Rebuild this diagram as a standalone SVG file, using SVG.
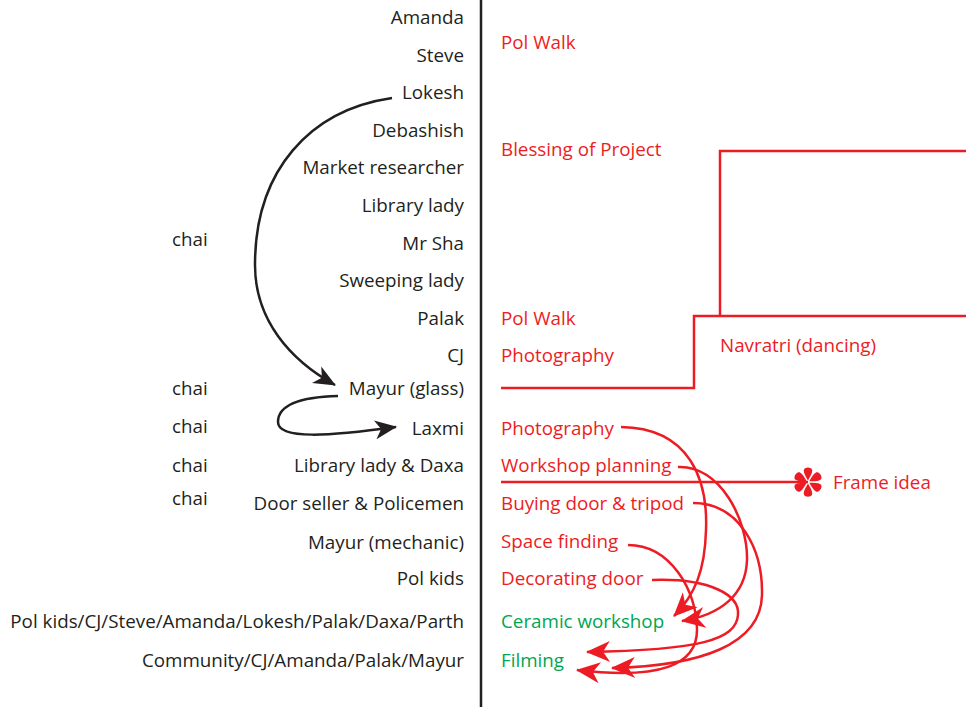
<svg xmlns="http://www.w3.org/2000/svg" width="966" height="707" viewBox="0 0 966 707">
<style>
text{font-family:"Open Sans","Noto Sans","Liberation Sans",sans-serif;font-size:18.8px}
.k{fill:#231f20;text-anchor:end}
.c{fill:#231f20}
.r{fill:#ed1c24}
.g{fill:#00a651}
.lr{fill:none;stroke:#ed1c24;stroke-width:2.5}
.lk{fill:none;stroke:#231f20;stroke-width:2.5}
</style>
<defs>
<marker id="ar" viewBox="-26 -12 28 24" refX="0" refY="0" markerWidth="28" markerHeight="24" markerUnits="userSpaceOnUse" orient="auto">
<path d="M1,0 L-23,-10.5 L-16,0 L-23,10.5 Z" fill="#ed1c24"/>
</marker>
<marker id="ak" viewBox="-26 -12 28 24" refX="0" refY="0" markerWidth="28" markerHeight="24" markerUnits="userSpaceOnUse" orient="auto">
<path d="M1,0 L-21,-9.5 L-15,0 L-21,9.5 Z" fill="#231f20"/>
</marker>
</defs>
<line x1="481" y1="0" x2="481" y2="707" stroke="#231f20" stroke-width="2.5"/>
<g id="people">
<text class="k" x="464" y="24">Amanda</text>
<text class="k" x="464" y="62">Steve</text>
<text class="k" x="464" y="99">Lokesh</text>
<text class="k" x="464" y="137">Debashish</text>
<text class="k" x="464" y="174">Market researcher</text>
<text class="k" x="464" y="212">Library lady</text>
<text class="k" x="464" y="250">Mr Sha</text>
<text class="k" x="464" y="287">Sweeping lady</text>
<text class="k" x="464" y="325">Palak</text>
<text class="k" x="464" y="362">CJ</text>
<text class="k" x="464" y="395">Mayur (glass)</text>
<text class="k" x="464" y="435">Laxmi</text>
<text class="k" x="464" y="472">Library lady &amp; Daxa</text>
<text class="k" x="464" y="510">Door seller &amp; Policemen</text>
<text class="k" x="464" y="549">Mayur (mechanic)</text>
<text class="k" x="464" y="585">Pol kids</text>
<text class="k" x="464" y="628">Pol kids/CJ/Steve/Amanda/Lokesh/Palak/Daxa/Parth</text>
<text class="k" x="464" y="667">Community/CJ/Amanda/Palak/Mayur</text>
</g>
<g id="chai">
<text class="c" x="172" y="246">chai</text>
<text class="c" x="172" y="395">chai</text>
<text class="c" x="172" y="433">chai</text>
<text class="c" x="172" y="472">chai</text>
<text class="c" x="172" y="505">chai</text>
</g>
<g id="activities">
<text class="r" x="501" y="49">Pol Walk</text>
<text class="r" x="501" y="156">Blessing of Project</text>
<text class="r" x="501" y="325">Pol Walk</text>
<text class="r" x="501" y="362">Photography</text>
<text class="r" x="501" y="435">Photography</text>
<text class="r" x="501" y="472">Workshop planning</text>
<text class="r" x="501" y="510">Buying door &amp; tripod</text>
<text class="r" x="501" y="548">Space finding</text>
<text class="r" x="501" y="585">Decorating door</text>
<text class="g" x="501" y="628">Ceramic workshop</text>
<text class="g" x="501" y="667">Filming</text>
<text class="r" x="720" y="352">Navratri (dancing)</text>
</g>
<g id="frame-idea">
<g fill="#ed1c24" transform="translate(808,482)">
<path id="petal" d="M0,-1.5 C-2,-5 -4.5,-9 -4.2,-12 C-4,-15.5 4,-15.5 4.2,-12 C4.5,-9 2,-5 0,-1.5 Z"/>
<use href="#petal" transform="rotate(60)"/>
<use href="#petal" transform="rotate(120)"/>
<use href="#petal" transform="rotate(180)"/>
<use href="#petal" transform="rotate(240)"/>
<use href="#petal" transform="rotate(300)"/>
</g>
<text class="r" x="833" y="489">Frame idea</text>
</g>
<g id="connectors">
<path class="lr" d="M501 388 H694 V316 H966"/>
<path class="lr" d="M720 316 V151 H966"/>
<path class="lr" d="M501 482 H808"/>
<path class="lk" d="M392 98 C310 110 255 170 255 265 C255 320 290 360 335 385" marker-end="url(#ak)"/>
<path class="lk" d="M338 396 C300 397 278 405 278 422 C278 440 330 436 396 427" marker-end="url(#ak)"/>
<path class="lr" d="M621 427 C690 428 708 480 706 530 C705 570 695 595 674 616" marker-end="url(#ar)"/>
<path class="lr" d="M678 467 C720 465 748 520 747 560 C746 595 720 615 682 621" marker-end="url(#ar)"/>
<path class="lr" d="M693 503 C740 503 763 550 762 595 C761 645 700 666 612 668" marker-end="url(#ar)"/>
<path class="lr" d="M628 545 C670 545 697 590 697 630 C697 665 660 680 577 670" marker-end="url(#ar)"/>
<path class="lr" d="M652 580 C710 578 740 595 738 615 C736 640 700 650 587 652" marker-end="url(#ar)"/>
</g>
</svg>
